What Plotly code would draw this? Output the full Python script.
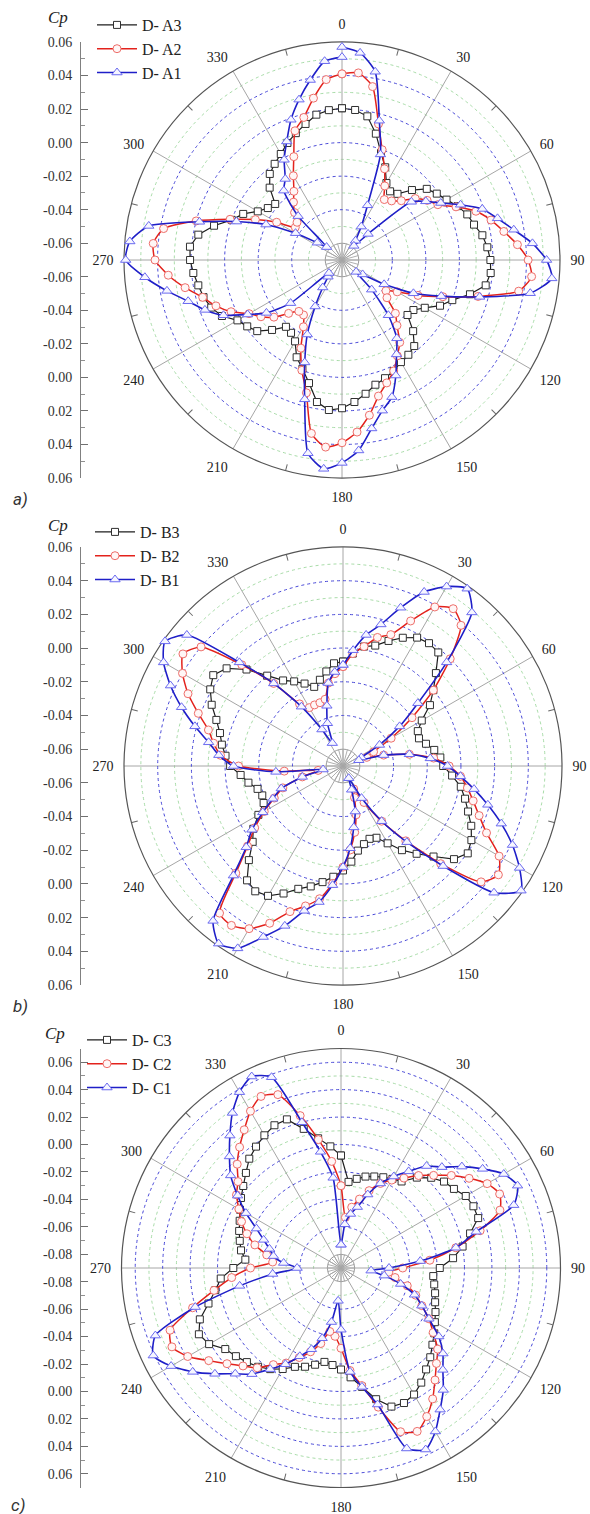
import plotly.graph_objects as go

W, H = 590, 1514
ANGLES = list(range(0, 365, 5))          # 0 .. 360 deg, 5 deg steps
ANGLE_TICKS = list(range(0, 360, 30))
ANGLE_MINOR = list(range(15, 360, 30))
HUB_TICKS = list(range(0, 360, 15))

# ---------------- panel a ----------------
A3 = [0.0205, 0.0198, 0.017, 0.008, -0.002, -0.009, -0.017, -0.02, -0.0185, -0.011, -0.004, -0.001,
      0.002, 0.006, 0.0095, 0.0115, 0.015, 0.017, 0.0185, 0.019, 0.017, 0.009, 0.0, -0.0055,
      -0.013, -0.018, -0.019, -0.010, -0.003, -0.001, 0.0003, 0.003, 0.005, 0.007, 0.011, 0.015,
      0.0184, 0.0198, 0.016, 0.006, -0.001, -0.006, -0.014, -0.017, -0.018, -0.011, -0.004, -0.001,
      0.002, 0.009, 0.013, 0.0155, 0.017, 0.019, 0.0206, 0.021, 0.017, 0.009, 0.0, -0.005,
      -0.012, -0.016, -0.018, -0.009, -0.003, 0.0, 0.003, 0.007, 0.0105, 0.014, 0.018, 0.0197,
      0.0205]
A2 = [0.041, 0.042, 0.035, 0.014, 0.0, -0.010, -0.019, -0.026, -0.024, -0.02, -0.013, -0.008,
      -0.004, 0.005, 0.015, 0.022, 0.028, 0.035, 0.041, 0.0435, 0.037, 0.014, -0.006, -0.02,
      -0.032, -0.038, -0.035, -0.025, -0.019, -0.01, -0.004, 0.003, 0.008, 0.014, 0.024, 0.033,
      0.039, 0.042, 0.035, 0.012, 0.0, -0.012, -0.024, -0.03, -0.03, -0.025, -0.017, -0.011,
      -0.006, 0.003, 0.010, 0.016, 0.025, 0.034, 0.0415, 0.043, 0.038, 0.02, 0.001, -0.013,
      -0.025, -0.036, -0.035, -0.03, -0.025, -0.02, -0.012, -0.002, 0.012, 0.018, 0.028, 0.038,
      0.041]
A1 = [0.057, 0.054, 0.044, 0.016, -0.003, -0.034, -0.047, -0.056, -0.059, -0.048, -0.016, -0.009,
      -0.002, 0.008, 0.019, 0.026, 0.034, 0.044, 0.052, 0.0556, 0.044, 0.015, -0.007, -0.023,
      -0.041, -0.055, -0.059, -0.045, -0.027, -0.013, -0.005, 0.006, 0.017, 0.023, 0.032, 0.044,
      0.051, 0.055, 0.047, 0.016, -0.005, -0.021, -0.038, -0.05, -0.057, -0.059, -0.03, -0.015,
      -0.005, 0.008, 0.017, 0.025, 0.036, 0.048, 0.059, 0.057, 0.047, 0.018, -0.003, -0.02,
      -0.038, -0.052, -0.058, -0.033, -0.016, -0.011, -0.001, 0.008, 0.019, 0.029, 0.039, 0.049,
      0.051]

# ---------------- panel b ----------------
B3 = [-0.008, -0.003, 0.002, 0.004, 0.009, 0.014, 0.018, 0.019, 0.018, 0.008, 0.0, -0.007,
      -0.016, -0.021, -0.022, -0.019, -0.015, -0.012, -0.0105, -0.005, 0.001, 0.005, 0.009, 0.014,
      0.018, 0.0204, 0.016, 0.006, -0.002, -0.009, -0.017, -0.023, -0.024, -0.022, -0.019, -0.013,
      -0.008, -0.004, 0.0, 0.004, 0.0076, 0.0135, 0.019, 0.0208, 0.0186, 0.009, 0.0, -0.005,
      -0.012, -0.018, -0.019, -0.0175, -0.013, -0.009, -0.003, 0.0, 0.003, 0.0056, 0.01, 0.016,
      0.021, 0.024, 0.0202, 0.011, 0.0, -0.008, -0.012, -0.016, -0.02, -0.017, -0.013, -0.0088,
      -0.008]
B2 = [-0.011, -0.003, 0.002, 0.009, 0.013, 0.025, 0.039, 0.044, 0.039, 0.02, 0.0, -0.02,
      -0.037, -0.05, -0.055, -0.045, -0.03, -0.016, -0.007, 0.0, 0.005, 0.01, 0.016, 0.024,
      0.037, 0.0426, 0.037, 0.012, -0.012, -0.03, -0.045, -0.055, -0.05, -0.04, -0.03, -0.02,
      -0.01, 0.0, 0.01, 0.016, 0.022, 0.033, 0.0415, 0.0455, 0.044, 0.02, 0.004, -0.006,
      -0.016, -0.025, -0.032, -0.045, -0.055, -0.035, -0.008, 0.003, 0.008, 0.0127, 0.0214, 0.0315,
      0.04, 0.046, 0.04, 0.015, -0.006, -0.025, -0.03, -0.03, -0.03, -0.029, -0.02, -0.015,
      -0.011]
B1 = [-0.01, -0.001, 0.009, 0.017, 0.03, 0.044, 0.053, 0.0585, 0.049, 0.017, -0.012, -0.029,
      -0.045, -0.058, -0.06, -0.045, -0.03, -0.018, -0.008, 0.0, 0.009, 0.019, 0.03, 0.041,
      0.051, 0.059, 0.047, 0.014, -0.011, -0.03, -0.048, -0.062, -0.055, -0.042, -0.033, -0.021,
      -0.01, 0.001, 0.012, 0.019, 0.031, 0.042, 0.055, 0.0587, 0.05, 0.022, 0.005, -0.004,
      -0.015, -0.024, -0.031, -0.045, -0.058, -0.03, -0.005, 0.004, 0.011, 0.021, 0.032, 0.043,
      0.053, 0.059, 0.051, 0.017, -0.006, -0.027, -0.045, -0.055, -0.043, -0.033, -0.02, -0.014,
      -0.01]

# ---------------- panel c ----------------
C3 = [-0.008, -0.027, -0.024, -0.021, -0.019, -0.017, -0.015, -0.013, -0.004, 0.003, 0.008, 0.0105,
      0.015, 0.0165, 0.0164, 0.0074, 0.0, -0.008, -0.018, -0.0225, -0.021, -0.019, -0.017, -0.014,
      -0.011, -0.007, -0.003, 0.002, 0.0065, 0.012, 0.0165, 0.0186, 0.0175, 0.009, -0.002, -0.01,
      -0.016, -0.019, -0.0205, -0.017, -0.0134, -0.0105, -0.005, 0.0, 0.004, 0.007, 0.01, 0.013,
      0.021, 0.0243, 0.0195, 0.01, 0.003, -0.002, -0.0115, -0.02, -0.016, -0.0136, -0.011, -0.0085,
      -0.005, -0.001, 0.003, 0.008, 0.014, 0.018, 0.0217, 0.0248, 0.0253, 0.015, 0.006, -0.001,
      -0.008]
C2 = [-0.03, -0.053, -0.045, -0.038, -0.03, -0.022, -0.016, -0.01, -0.002, 0.0055, 0.015, 0.024,
      0.033, 0.0376, 0.0333, 0.015, -0.005, -0.025, -0.045, -0.055, -0.05, -0.04, -0.032, -0.025,
      -0.016, -0.008, 0.002, 0.0084, 0.0166, 0.0265, 0.035, 0.0414, 0.037, 0.015, -0.003, -0.015,
      -0.0315, -0.04, -0.043, -0.033, -0.025, -0.018, -0.01, -0.004, 0.005, 0.011, 0.0185, 0.0277,
      0.039, 0.046, 0.0426, 0.022, 0.004, -0.01, -0.024, -0.04, -0.035, -0.025, -0.017, -0.01,
      -0.004, 0.003, 0.008, 0.017, 0.025, 0.033, 0.042, 0.048, 0.0445, 0.025, 0.005, -0.012,
      -0.03]
C1 = [-0.073, -0.058, -0.05, -0.044, -0.033, -0.022, -0.013, -0.004, 0.007, 0.014, 0.025, 0.036,
      0.047, 0.052, 0.044, 0.012, -0.005, -0.032, -0.055, -0.068, -0.058, -0.045, -0.033, -0.025,
      -0.016, -0.003, 0.007, 0.015, 0.026, 0.036, 0.0476, 0.056, 0.05, 0.013, -0.002, -0.014,
      -0.045, -0.066, -0.05, -0.037, -0.027, -0.019, -0.009, 0.0, 0.011, 0.019, 0.03, 0.042,
      0.053, 0.061, 0.054, 0.02, -0.015, -0.04, -0.058, -0.048, -0.04, -0.036, -0.03, -0.022,
      -0.01, 0.002, 0.015, 0.025, 0.036, 0.048, 0.058, 0.064, 0.058, 0.02, -0.004, -0.024,
      -0.073]

CP_TICKS_AB = [0.06, 0.04, 0.02, 0.00, -0.02, -0.04, -0.06]
CP_TICKS_C = [0.06, 0.04, 0.02, 0.00, -0.02, -0.04, -0.06, -0.08]

PANELS = [
    dict(tag="a)", cx=342, cy=260, R=218, rmin=-0.07, rmax=0.06, ticks=CP_TICKS_AB,
         names=["D- A3", "D- A2", "D- A1"], data=[A3, A2, A1],
         leg_x=92, leg_y=8, cp=(58, 18), lab=(20, 499)),
    dict(tag="b)", cx=343, cy=766, R=219, rmin=-0.07, rmax=0.06, ticks=CP_TICKS_AB,
         names=["D- B3", "D- B2", "D- B1"], data=[B3, B2, B1],
         leg_x=90, leg_y=515, cp=(58, 525), lab=(20, 1006)),
    dict(tag="c)", cx=341, cy=1268, R=219.5, rmin=-0.09, rmax=0.07, ticks=CP_TICKS_C,
         names=["D- C3", "D- C2", "D- C1"], data=[C3, C2, C1],
         leg_x=82, leg_y=1023, cp=(55, 1033), lab=(18, 1505)),
]

STYLES = [
    dict(line=dict(color="#1e1e1e", width=1.2, shape="linear"),
         marker=dict(symbol="square", size=7, color="white", line=dict(color="#303030", width=1))),
    dict(line=dict(color="#e3221c", width=1.5, shape="spline", smoothing=0.6),
         marker=dict(symbol="circle", size=8, color="#fff6f6", line=dict(color="#ee6e6a", width=1))),
    dict(line=dict(color="#1f1fc8", width=1.6, shape="spline", smoothing=0.6),
         marker=dict(symbol="triangle-up", size=9, color="#f6f6ff", line=dict(color="#6a6af0", width=1))),
]

SERIF = "Liberation Serif"

def pid(n):
    return "polar" if n == 1 else f"polar{n}"

fig = go.Figure()
layout = dict(width=W, height=H, margin=dict(l=0, r=0, t=0, b=0), template="none",
              paper_bgcolor="white", plot_bgcolor="rgba(0,0,0,0)", showlegend=True,
              annotations=[])

for i, p in enumerate(PANELS):
    cx, cy, R = p["cx"], p["cy"], p["R"]
    rmin, rmax = p["rmin"], p["rmax"]
    span = rmax - rmin
    dom_x = [(cx - R) / W, (cx + R) / W]
    dom_y = [1 - (cy + R) / H, 1 - (cy - R) / H]
    n_hub, n_grid, n_main = 3 * i + 1, 3 * i + 2, 3 * i + 3

    major = [round(v / 100, 2) for v in range(-8, 7, 2) if rmin + 0.015 < v / 100 < rmax - 0.001]
    minor = [round(v / 100, 2) for v in range(-9, 8, 2) if rmin + 0.005 < v / 100 < rmax - 0.001]

    # hub (small inner circle with spokes)
    hub_px = 0.01 * R / span
    layout[pid(n_hub)] = dict(
        domain=dict(x=[(cx - hub_px) / W, (cx + hub_px) / W], y=[1 - (cy + hub_px) / H, 1 - (cy - hub_px) / H]),
        bgcolor="rgba(0,0,0,0)",
        radialaxis=dict(range=[0, 1], showgrid=False, showline=False, showticklabels=False, ticks=""),
        angularaxis=dict(rotation=90, direction="clockwise", tickvals=HUB_TICKS, showticklabels=False, ticks="",
                         showline=True, linecolor="#9a9a9a", linewidth=1, gridcolor="#b0b0b0", gridwidth=0.8),
    )
    # green minor radial grid + small inner ticks at 15 deg offsets
    layout[pid(n_grid)] = dict(
        domain=dict(x=dom_x, y=dom_y), bgcolor="rgba(0,0,0,0)",
        radialaxis=dict(range=[rmin, rmax], tickvals=minor, showticklabels=False, ticks="", showline=False,
                        gridcolor="#a8dca8", griddash="dot", gridwidth=1),
        angularaxis=dict(rotation=90, direction="clockwise", tickvals=ANGLE_MINOR, showgrid=False,
                         showline=False, showticklabels=False, ticks="inside", ticklen=6,
                         tickcolor="#666666", tickwidth=1),
    )
    # main polar
    layout[pid(n_main)] = dict(
        domain=dict(x=dom_x, y=dom_y), bgcolor="rgba(0,0,0,0)",
        radialaxis=dict(range=[rmin, rmax], tickvals=major, showticklabels=False, ticks="", showline=False,
                        gridcolor="#4848d8", griddash="dot", gridwidth=1, layer="below traces"),
        angularaxis=dict(rotation=90, direction="clockwise", tickvals=ANGLE_TICKS,
                         ticktext=[str(a) for a in ANGLE_TICKS], ticks="outside", ticklen=7,
                         tickcolor="rgba(0,0,0,0)", showline=True, linecolor="#555555", linewidth=1.2,
                         gridcolor="#a6a6a6", gridwidth=1, layer="below traces",
                         tickfont=dict(family=SERIF, size=14, color="#222")),
    )
    fig.add_trace(go.Scatterpolar(r=[], theta=[], subplot=pid(n_hub), showlegend=False, hoverinfo="skip"))
    fig.add_trace(go.Scatterpolar(r=[], theta=[], subplot=pid(n_grid), showlegend=False, hoverinfo="skip"))

    leg = "legend" if i == 0 else f"legend{i + 1}"
    layout[leg] = dict(x=p["leg_x"] / W, y=1 - p["leg_y"] / H, xanchor="left", yanchor="top",
                       bgcolor="rgba(0,0,0,0)", borderwidth=0, itemwidth=40, traceorder="normal",
                       font=dict(family=SERIF, size=16, color="#222"))
    for name, vals, st in zip(p["names"], p["data"], STYLES):
        fig.add_trace(go.Scatterpolar(r=vals, theta=ANGLES, name=name, mode="lines+markers",
                                      subplot=pid(n_main), legend=leg, line=st["line"], marker=st["marker"]))

    # left Cp axis (radial scale mirrored about the centre)
    ax = "" if i == 0 else str(i + 1)
    tv = [t - rmin for t in p["ticks"]] + [-(t - rmin) for t in p["ticks"]]
    tt = [f"{t:.2f}" for t in p["ticks"]] * 2
    mt = [round(t - 0.01, 3) for t in p["ticks"] if t - 0.01 > rmin + 0.001]
    if p["ticks"][0] + 0.01 <= rmax + 1e-9:
        mt.append(p["ticks"][0] + 0.01)
    mv = [m - rmin for m in mt] + [-(m - rmin) for m in mt]
    layout["xaxis" + ax] = dict(domain=[0.2, 0.9], anchor="y" + ax, visible=False, range=[0, 1])
    layout["yaxis" + ax] = dict(domain=dom_y, range=[-span, span], anchor="free", position=80 / W,
                                tickmode="array", tickvals=tv, ticktext=tt, ticks="inside", ticklen=7,
                                tickcolor="#707070", tickwidth=1, showline=True, linecolor="#808080", linewidth=1,
                                showgrid=False, zeroline=False, ticklabelstandoff=5,
                                tickfont=dict(family=SERIF, size=14, color="#333"),
                                minor=dict(tickvals=mv, ticks="inside", ticklen=4, tickcolor="#909090",
                                           showgrid=False))
    fig.add_trace(go.Scatter(x=[None], y=[None], xaxis="x" + ax, yaxis="y" + ax, showlegend=False,
                             hoverinfo="skip"))

    layout["annotations"].append(dict(text="<i>Cp</i>", x=p["cp"][0] / W, y=1 - p["cp"][1] / H,
                                      xref="paper", yref="paper", showarrow=False,
                                      xanchor="center", yanchor="middle",
                                      font=dict(family=SERIF, size=17, color="#222")))
    layout["annotations"].append(dict(text="<i>" + p["tag"] + "</i>", x=p["lab"][0] / W, y=1 - p["lab"][1] / H,
                                      xref="paper", yref="paper", showarrow=False,
                                      xanchor="center", yanchor="middle",
                                      font=dict(family="Roboto", size=17, color="#333")))

fig.update_layout(**layout)
fig.write_html("out.html", config={"displayModeBar": False},
               post_script="document.body.style.margin='0px';document.body.style.overflow='hidden';")
